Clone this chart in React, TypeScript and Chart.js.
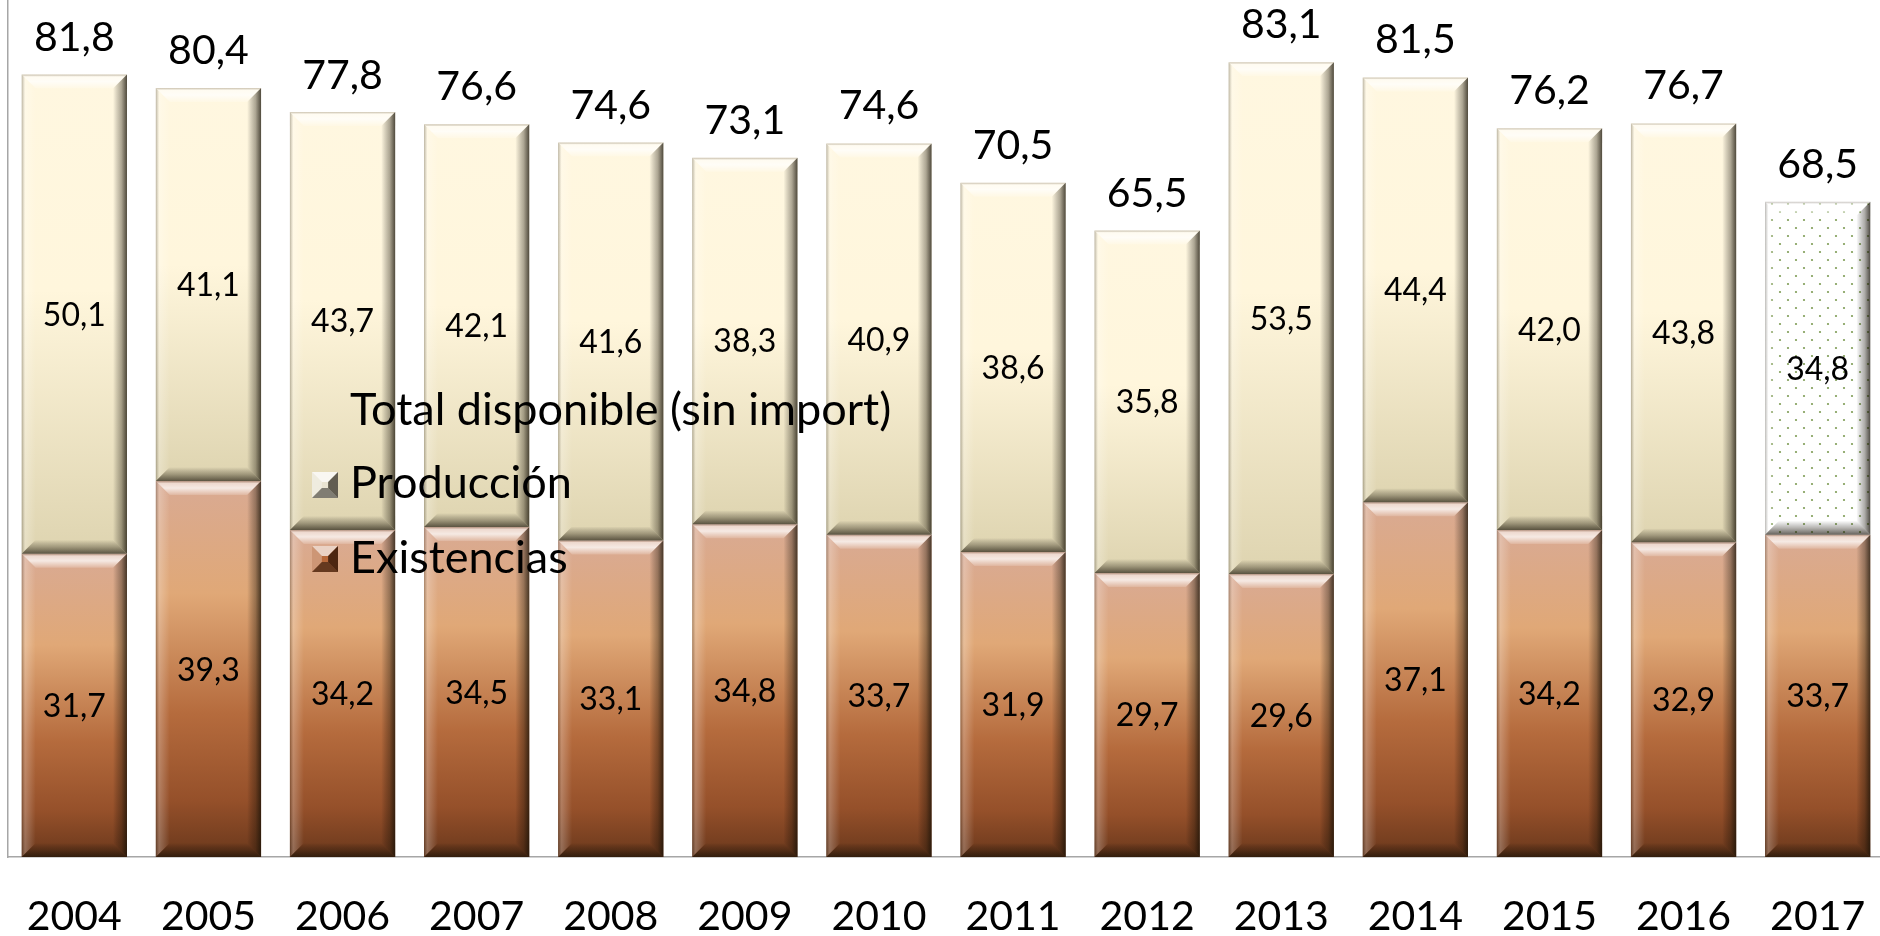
import React, { useEffect, useRef } from 'react';
import { Chart, registerables } from 'chart.js';

Chart.register(...registerables);

// ---- data ----
const years = ['2004', '2005', '2006', '2007', '2008', '2009', '2010', '2011', '2012', '2013', '2014', '2015', '2016', '2017'];
const existencias = [31.7, 39.3, 34.2, 34.5, 33.1, 34.8, 33.7, 31.9, 29.7, 29.6, 37.1, 34.2, 32.9, 33.7];
const produccion = [50.1, 41.1, 43.7, 42.1, 41.6, 38.3, 40.9, 38.6, 35.8, 53.5, 44.4, 42.0, 43.8, 34.8];
const totales = [81.8, 80.4, 77.8, 76.6, 74.6, 73.1, 74.6, 70.5, 65.5, 83.1, 81.5, 76.2, 76.7, 68.5];
const labelTotal = 'Total disponible (sin import)';
const labelProduccion = 'Producción';
const labelExistencias = 'Existencias';
const estimatedIndex = 13; // 2017 drawn with dotted fill

const FONT = 'Lato, "Open Sans", sans-serif';
const fmt = (v: number) => v.toFixed(1).replace('.', ',');

const brownStops: [number, string][] = [
  [0, '#d9aa93'],
  [0.3, '#e0a877'],
  [0.62, '#b56b3d'],
  [0.85, '#95502a'],
  [1, '#6a381c'],
];
const creamStops: [number, string][] = [
  [0, '#fff7e0'],
  [0.45, '#fff6dc'],
  [1, '#ded4b0'],
];

let dotPattern: CanvasPattern | null = null;
function getDotPattern(ctx: CanvasRenderingContext2D) {
  if (dotPattern) return dotPattern;
  const c = document.createElement('canvas');
  c.width = 16;
  c.height = 16;
  const p = c.getContext('2d')!;
  p.fillStyle = '#ffffff';
  p.fillRect(0, 0, 16, 16);
  p.fillStyle = '#7f9c55';
  [[4, 4], [12, 12]].forEach(([x, y]) => {
    p.beginPath();
    p.arc(x, y, 1.1, 0, Math.PI * 2);
    p.fill();
  });
  dotPattern = ctx.createPattern(c, 'repeat');
  return dotPattern;
}

function segmentFill(c: any, stops: [number, string][]) {
  const chart = c.chart;
  if (c.type !== 'data' || !chart.chartArea || !chart.scales.y) return stops[1][1];
  const i = c.dataIndex;
  const ds = c.datasetIndex;
  if (ds === 1 && i === estimatedIndex) return getDotPattern(chart.ctx) || '#ffffff';
  const lo = ds === 0 ? 0 : existencias[i];
  const hi = ds === 0 ? existencias[i] : existencias[i] + produccion[i];
  const y = chart.scales.y;
  const top = y.getPixelForValue(hi);
  const bot = y.getPixelForValue(lo);
  const g = chart.ctx.createLinearGradient(0, top, 0, bot);
  stops.forEach(([o, col]) => g.addColorStop(o, col));
  return g;
}

function bevel(ctx: CanvasRenderingContext2D, L: number, T: number, R: number, B: number) {
  const b = Math.min(14, (B - T) / 2, (R - L) / 2);
  let g: CanvasGradient;
  // top
  ctx.beginPath();
  ctx.moveTo(L, T); ctx.lineTo(R, T); ctx.lineTo(R - b, T + b); ctx.lineTo(L + b, T + b); ctx.closePath();
  g = ctx.createLinearGradient(0, T, 0, T + b);
  g.addColorStop(0, 'rgba(120,110,100,0.35)');
  g.addColorStop(0.15, 'rgba(255,255,255,0.55)');
  g.addColorStop(0.5, 'rgba(255,255,255,0.75)');
  g.addColorStop(1, 'rgba(255,255,255,0.15)');
  ctx.fillStyle = g; ctx.fill();
  // left
  ctx.beginPath();
  ctx.moveTo(L, T); ctx.lineTo(L + b, T + b); ctx.lineTo(L + b, B - b); ctx.lineTo(L, B); ctx.closePath();
  g = ctx.createLinearGradient(L, 0, L + b, 0);
  g.addColorStop(0, 'rgba(60,55,45,0.35)');
  g.addColorStop(0.25, 'rgba(255,255,255,0.25)');
  g.addColorStop(1, 'rgba(255,255,255,0)');
  ctx.fillStyle = g; ctx.fill();
  // right
  ctx.beginPath();
  ctx.moveTo(R, T); ctx.lineTo(R, B); ctx.lineTo(R - b, B - b); ctx.lineTo(R - b, T + b); ctx.closePath();
  g = ctx.createLinearGradient(R - b, 0, R, 0);
  g.addColorStop(0, 'rgba(0,0,0,0)');
  g.addColorStop(0.6, 'rgba(20,15,5,0.35)');
  g.addColorStop(1, 'rgba(20,15,5,0.75)');
  ctx.fillStyle = g; ctx.fill();
  // bottom
  ctx.beginPath();
  ctx.moveTo(L, B); ctx.lineTo(R, B); ctx.lineTo(R - b, B - b); ctx.lineTo(L + b, B - b); ctx.closePath();
  g = ctx.createLinearGradient(0, B - b, 0, B);
  g.addColorStop(0, 'rgba(0,0,0,0)');
  g.addColorStop(0.5, 'rgba(20,15,5,0.3)');
  g.addColorStop(1, 'rgba(20,15,5,0.65)');
  ctx.fillStyle = g; ctx.fill();
}

const bevelAndLabels = {
  id: 'bevelAndLabels',
  afterDatasetsDraw(chart: any) {
    const ctx: CanvasRenderingContext2D = chart.ctx;
    ctx.save();
    [0, 1].forEach((di) => {
      chart.getDatasetMeta(di).data.forEach((el: any) => {
        const { x, y, base, width } = el.getProps(['x', 'y', 'base', 'width'], true);
        bevel(ctx, x - width / 2, Math.min(y, base), x + width / 2, Math.max(y, base));
      });
    });
    // segment labels
    ctx.fillStyle = '#000';
    ctx.textAlign = 'center';
    ctx.textBaseline = 'alphabetic';
    ctx.font = `32px ${FONT}`;
    [0, 1].forEach((di) => {
      const vals = chart.data.datasets[di].data as number[];
      chart.getDatasetMeta(di).data.forEach((el: any, i: number) => {
        const { x, y, base } = el.getProps(['x', 'y', 'base'], true);
        ctx.fillText(fmt(vals[i]), x, (y + base) / 2 + 11.5);
      });
    });
    // totals
    ctx.font = `41px ${FONT}`;
    const tv = chart.data.datasets[2].data as number[];
    chart.getDatasetMeta(2).data.forEach((el: any, i: number) => {
      const { x, y } = el.getProps(['x', 'y'], true);
      ctx.fillText(fmt(tv[i]), x, y - 24);
    });
    ctx.restore();
  },
};

function legendBox(ctx: CanvasRenderingContext2D, x: number, y: number, s: number, face: string, edge: string) {
  const b = s * 0.38;
  ctx.fillStyle = face;
  ctx.fillRect(x, y, s, s);
  const tri = (pts: number[][], col: string) => {
    ctx.beginPath();
    ctx.moveTo(pts[0][0], pts[0][1]);
    pts.slice(1).forEach((p) => ctx.lineTo(p[0], p[1]));
    ctx.closePath();
    ctx.fillStyle = col;
    ctx.fill();
  };
  tri([[x, y], [x + s, y], [x + s - b, y + b], [x + b, y + b]], 'rgba(255,255,255,0.7)');
  tri([[x, y], [x + b, y + b], [x + b, y + s - b], [x, y + s]], 'rgba(255,255,255,0.3)');
  tri([[x + s, y], [x + s, y + s], [x + s - b, y + s - b], [x + s - b, y + b]], edge);
  tri([[x, y + s], [x + s, y + s], [x + s - b, y + s - b], [x + b, y + s - b]], 'rgba(0,0,0,0.45)');
}

const overlayLegend = {
  id: 'overlayLegend',
  afterDraw(chart: any) {
    const ctx: CanvasRenderingContext2D = chart.ctx;
    const ds = chart.data.datasets;
    const boxX = 312;
    const textX = 350;
    ctx.save();
    ctx.font = `45px ${FONT}`;
    ctx.fillStyle = '#000';
    ctx.textAlign = 'left';
    ctx.textBaseline = 'alphabetic';
    ctx.fillText(ds[2].label, textX, 425);
    legendBox(ctx, boxX, 472, 26, '#e9e4d2', 'rgba(40,35,25,0.7)');
    ctx.fillStyle = '#000';
    ctx.fillText(ds[1].label, textX, 498);
    legendBox(ctx, boxX, 546, 26, '#b8693a', 'rgba(30,10,0,0.7)');
    ctx.fillStyle = '#000';
    ctx.fillText(ds[0].label, textX, 573);
    ctx.restore();
  },
};

export default function App() {
  const ref = useRef<HTMLCanvasElement | null>(null);
  useEffect(() => {
    document.body.style.margin = '0';
    const canvas = ref.current!;
    const chart = new Chart(canvas, {
      type: 'bar',
      data: {
        labels: years,
        datasets: [
          {
            label: labelExistencias,
            data: existencias,
            backgroundColor: (c: any) => segmentFill(c, brownStops),
            borderWidth: 0,
            stack: 'bars',
            barPercentage: 0.785,
            categoryPercentage: 1,
          },
          {
            label: labelProduccion,
            data: produccion,
            backgroundColor: (c: any) => segmentFill(c, creamStops),
            borderWidth: 0,
            stack: 'bars',
            barPercentage: 0.785,
            categoryPercentage: 1,
          },
          {
            type: 'line',
            label: labelTotal,
            data: totales,
            showLine: false,
            pointRadius: 0,
            pointHoverRadius: 0,
            stack: 'total',
          } as any,
        ],
      },
      options: {
        responsive: false,
        animation: false,
        layout: { padding: { left: 1, right: 0, top: 0, bottom: 0 } },
        plugins: { legend: { display: false }, tooltip: { enabled: false } },
        scales: {
          x: {
            stacked: true,
            grid: { display: false },
            border: { display: true, color: '#a6a6a6', width: 1.5 },
            ticks: { color: '#000', font: { family: FONT, size: 41 }, padding: 27 },
            afterFit: (s: any) => { s.height = 79; },
          },
          y: {
            stacked: true,
            min: 0,
            max: 89.6,
            grid: { display: false },
            border: { display: true, color: '#a6a6a6', width: 1.5 },
            ticks: { display: false },
            afterFit: (s: any) => { s.width = 0; },
          },
        },
      },
      plugins: [bevelAndLabels, overlayLegend],
    });
    return () => chart.destroy();
  }, []);
  return (
    <div style={{ width: 1880, height: 936, overflow: 'hidden', background: '#fff' }}>
      <canvas ref={ref} width={1892} height={936} style={{ display: 'block' }} />
    </div>
  );
}
